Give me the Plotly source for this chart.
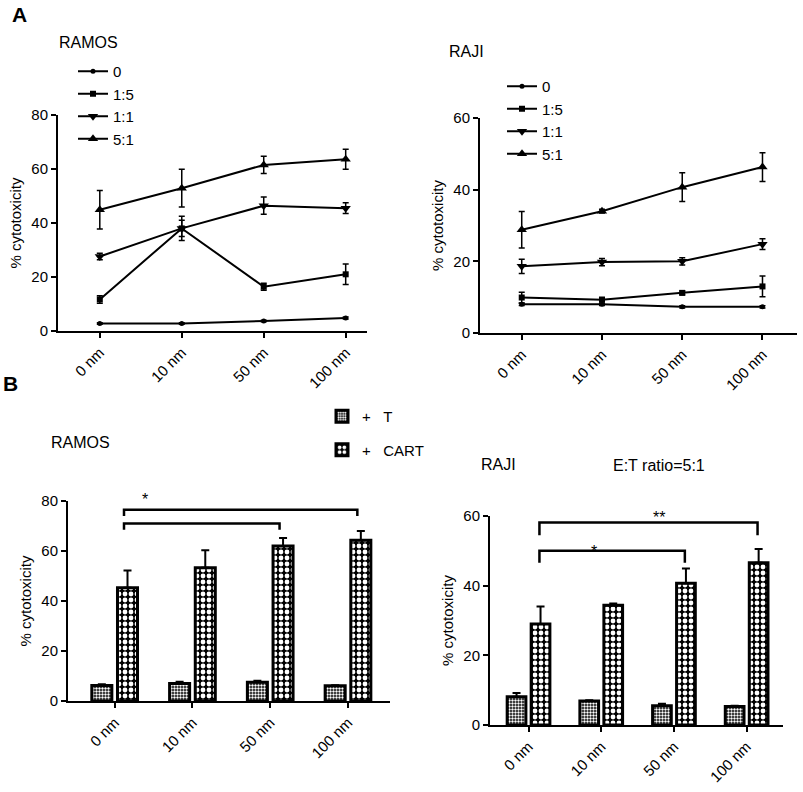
import plotly.graph_objects as go

W, H = 803, 792

# ---------------- data ----------------
doses = ["0 nm", "10 nm", "50 nm", "100 nm"]
ratios = ["0", "1:5", "1:1", "5:1"]

# Panel A - RAMOS (% cytotoxicity) by E:T ratio
ramos_r0 = [2.8, 2.8, 3.7, 4.8]
ramos_r0_err = [0.3, 0.3, 0.3, 0.4]
ramos_r15 = [11.7, 38.0, 16.4, 21.0]
ramos_r15_err = [1.4, 4.5, 1.3, 3.8]
ramos_r11 = [27.6, 38.0, 46.4, 45.5]
ramos_r11_err = [1.2, 3.0, 3.2, 2.0]
ramos_r51 = [44.9, 52.9, 61.5, 63.6]
ramos_r51_err = [7.1, 7.0, 3.2, 3.7]

# Panel A - RAJI
raji_r0 = [8.0, 8.0, 7.3, 7.3]
raji_r0_err = [0.3, 0.3, 0.3, 0.3]
raji_r15 = [9.9, 9.3, 11.2, 13.0]
raji_r15_err = [1.5, 0.6, 0.5, 2.9]
raji_r11 = [18.6, 19.8, 20.0, 24.8]
raji_r11_err = [2.0, 1.0, 1.0, 1.5]
raji_r51 = [28.8, 34.0, 40.7, 46.3]
raji_r51_err = [5.1, 0.5, 4.0, 4.0]

# Panel B - bars (E:T ratio = 5:1)
bar_groups = ["+\u00a0\u00a0\u00a0T", "+\u00a0\u00a0\u00a0CART"]
ramos_t = [6.2, 7.0, 7.5, 6.1]
ramos_t_err = [0.5, 0.7, 0.6, 0.2]
ramos_cart = [45.3, 53.3, 62.0, 64.3]
ramos_cart_err = [6.9, 7.0, 3.2, 3.7]
raji_t = [8.1, 6.9, 5.5, 5.3]
raji_t_err = [1.1, 0.2, 0.6, 0.2]
raji_cart = [29.0, 34.4, 40.7, 46.6]
raji_cart_err = [5.0, 0.5, 4.2, 3.9]

# significance brackets: (from dose, to dose, level, drop)
ramos_brackets = [("0 nm", "100 nm", 76.5, 74.0), ("0 nm", "50 nm", 71.0, 68.5)]
raji_brackets = [("0 nm", "100 nm", 58.1, 54.5), ("0 nm", "50 nm", 50.0, 46.6)]
# star labels: (text, dose position, pixel row)
ramos_stars = [("*", 0.39, 499)]
raji_stars = [("**", 1.8, 517), ("*", 0.9, 551)]

FONT = "Liberation Sans, Arial, sans-serif"


def px(x):
    return x / W


def py(y):
    return 1 - y / H


fig = go.Figure()

symbols = ["circle", "square", "triangle-down", "triangle-up"]
sizes = [5, 6, 9, 9]

ramos_series = [ramos_r0, ramos_r15, ramos_r11, ramos_r51]
ramos_errs = [ramos_r0_err, ramos_r15_err, ramos_r11_err, ramos_r51_err]
raji_series = [raji_r0, raji_r15, raji_r11, raji_r51]
raji_errs = [raji_r0_err, raji_r15_err, raji_r11_err, raji_r51_err]

for i, name in enumerate(ratios):
    fig.add_trace(go.Scatter(
        x=doses, y=ramos_series[i], name=name, mode="lines+markers",
        line=dict(color="black", width=2),
        marker=dict(symbol=symbols[i], size=sizes[i], color="black"),
        error_y=dict(type="data", array=ramos_errs[i], color="black", thickness=1.5, width=3),
        xaxis="x", yaxis="y", legend="legend"))

for i, name in enumerate(ratios):
    fig.add_trace(go.Scatter(
        x=doses, y=raji_series[i], name=name, mode="lines+markers",
        line=dict(color="black", width=2),
        marker=dict(symbol=symbols[i], size=sizes[i], color="black"),
        error_y=dict(type="data", array=raji_errs[i], color="black", thickness=1.5, width=3),
        xaxis="x2", yaxis="y2", legend="legend2"))

pat_t = dict(shape=".", fgcolor="white", bgcolor="black", size=3, solidity=0.5, fillmode="replace")
pat_c = dict(shape=".", fgcolor="white", bgcolor="black", size=6, solidity=0.5, fillmode="replace")

bar_sets = [
    ("x3", "y3", ramos_t, ramos_t_err, ramos_cart, ramos_cart_err, True),
    ("x4", "y4", raji_t, raji_t_err, raji_cart, raji_cart_err, False),
]
for xa, ya, tv, te, cv, ce, show in bar_sets:
    for name, vals, errs, pat in [(bar_groups[0], tv, te, pat_t), (bar_groups[1], cv, ce, pat_c)]:
        fig.add_trace(go.Bar(
            x=doses, y=vals, name=name, showlegend=show, legend="legend3",
            legendgroup=name,
            marker=dict(color="black", line=dict(color="black", width=3), pattern=pat),
            error_y=dict(type="data", symmetric=False, array=errs,
                         arrayminus=[0] * len(errs), color="black", thickness=2, width=4),
            xaxis=xa, yaxis=ya))

axis_common = dict(showline=True, linecolor="black", linewidth=2, ticks="outside",
                   ticklen=5, tickwidth=2, tickcolor="black", showgrid=False,
                   zeroline=False, automargin=False,
                   tickfont=dict(family=FONT, size=15, color="black"))
xcommon = dict(axis_common, type="category", tickangle=-45,
               tickfont=dict(family=FONT, size=15, color="black"))
ytitle = dict(text="% cytotoxicity", font=dict(family=FONT, size=15, color="black"), standoff=6)

leg_font = dict(family=FONT, size=15, color="black")
fig.update_layout(
    width=W, height=H, margin=dict(l=0, r=0, t=0, b=0, autoexpand=False),
    paper_bgcolor="white", plot_bgcolor="white",
    font=dict(family=FONT, color="black"),
    barmode="group", bargap=0.34, bargroupgap=0.22,
    xaxis=dict(xcommon, domain=[px(58), px(367)], range=[-0.51, 3.26], anchor="y"),
    yaxis=dict(axis_common, domain=[py(331), py(115)], range=[0, 80], dtick=20,
               title=ytitle, anchor="x"),
    xaxis2=dict(xcommon, domain=[px(480), px(797)], range=[-0.52, 3.43], anchor="y2"),
    yaxis2=dict(axis_common, domain=[py(333), py(118)], range=[0, 60], dtick=20,
                title=ytitle, anchor="x2"),
    xaxis3=dict(xcommon, domain=[px(68), px(390)], range=[-0.6, 3.54], anchor="y3"),
    yaxis3=dict(axis_common, domain=[py(701), py(501)], range=[0, 80], dtick=20,
                title=ytitle, anchor="x3"),
    xaxis4=dict(xcommon, domain=[px(490), px(783)], range=[-0.53, 3.5], anchor="y4"),
    yaxis4=dict(axis_common, domain=[py(725), py(516)], range=[0, 60], dtick=20,
                title=ytitle, anchor="x4"),
    legend=dict(x=px(73), y=py(55), xanchor="left", yanchor="top",
                bgcolor="rgba(0,0,0,0)", font=leg_font, itemwidth=30, tracegroupgap=0),
    legend2=dict(x=px(502), y=py(70), xanchor="left", yanchor="top",
                 bgcolor="rgba(0,0,0,0)", font=leg_font, itemwidth=30, tracegroupgap=0),
    legend3=dict(x=px(322), y=py(400), xanchor="left", yanchor="top",
                 bgcolor="rgba(0,0,0,0)", font=leg_font, itemwidth=30, tracegroupgap=11),
)

annots = [
    dict(text="<b>A</b>", x=px(19), y=py(15), size=21),
    dict(text="<b>B</b>", x=px(10), y=py(383), size=21),
    dict(text="RAMOS", x=px(88), y=py(43), size=16),
    dict(text="RAJI", x=px(466), y=py(52), size=16),
    dict(text="RAMOS", x=px(80), y=py(442), size=16),
    dict(text="RAJI", x=px(498), y=py(464), size=16),
    dict(text="E:T ratio=5:1", x=px(659), y=py(465), size=16),
]
for a in annots:
    fig.add_annotation(text=a["text"], x=a["x"], y=a["y"], xref="paper", yref="paper",
                       showarrow=False, xanchor="center", yanchor="middle",
                       font=dict(family=FONT, size=a["size"], color="black"))

idx = {d: i for i, d in enumerate(doses)}


def add_brackets(brackets, stars, xa, ya, offset):
    for d0, d1, lvl, drop in brackets:
        x0 = idx[d0] + offset
        x1 = idx[d1] + offset
        fig.add_shape(type="path",
                      path=f"M {x0},{drop} L {x0},{lvl} L {x1},{lvl} L {x1},{drop}",
                      xref=xa, yref=ya, line=dict(color="black", width=2.5))
    for txt, xpos, row in stars:
        fig.add_annotation(text=txt, x=xpos, y=py(row), xref=xa, yref="paper", showarrow=False,
                           xanchor="center", yanchor="middle",
                           font=dict(family=FONT, size=16, color="black"))


add_brackets(ramos_brackets, ramos_stars, "x3", "y3", 0.12)
add_brackets(raji_brackets, raji_stars, "x4", "y4", 0.15)

fig.write_html("out.html", config={"displayModeBar": False},
               post_script="document.body.style.margin='0';")
